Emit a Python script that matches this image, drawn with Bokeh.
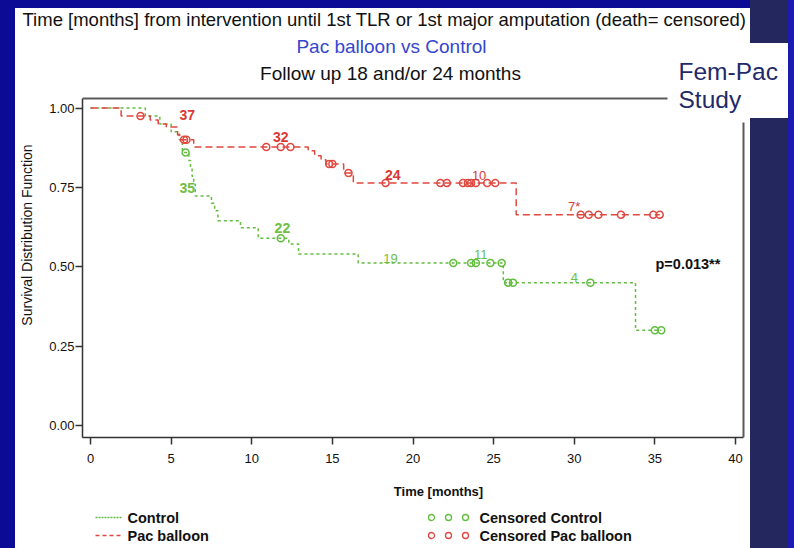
from bokeh.plotting import figure
from bokeh.layouts import column
from bokeh.models import Range1d, FixedTicker, PrintfTickFormatter
from bokeh.core.properties import value
from bokeh.embed import file_html
from bokeh.resources import INLINE

FONT = "Liberation Sans"

# ---- data ----
ctrl_t = [0, 3.4, 4.3, 5.0, 5.5, 5.7, 6.1, 6.2, 6.3, 6.4, 6.5, 7.5, 7.7, 7.9, 9.3, 10.4, 12.3, 12.9, 16.6, 25.6, 33.8, 35.4]
ctrl_s = [1.0, 0.975, 0.95, 0.925, 0.90, 0.86, 0.835, 0.81, 0.785, 0.76, 0.723, 0.70, 0.676, 0.645, 0.623, 0.59, 0.572, 0.54, 0.512, 0.45, 0.30, 0.30]
ctrl_cens = [5.9, 11.8, 22.5, 23.6, 23.9, 24.8, 25.5, 25.9, 26.2, 31.0, 35.0, 35.4]

pac_t = [0, 1.9, 3.7, 4.2, 4.7, 5.4, 5.6, 6.4, 13.5, 13.9, 14.3, 14.6, 15.7, 16.3, 26.4, 35.3]
pac_s = [1.0, 0.975, 0.962, 0.95, 0.94, 0.915, 0.90, 0.877, 0.865, 0.85, 0.837, 0.824, 0.795, 0.764, 0.664, 0.664]
pac_cens = [3.1, 5.8, 5.95, 10.9, 11.8, 12.4, 14.8, 15.0, 16.0, 18.3, 21.7, 22.1, 23.1, 23.4, 23.6, 23.9, 24.6, 25.1,
            30.4, 30.9, 31.5, 32.9, 34.9, 35.3]

pac_risk_t = [6.0, 11.8, 18.75, 24.1, 30.0]
pac_risk_s = [0.978, 0.909, 0.79, 0.786, 0.69]
pac_risk = ["37", "32", "24", "10", "7*"]
ctrl_risk_t = [6.0, 11.9, 18.6, 24.2, 30.0]
ctrl_risk_s = [0.748, 0.623, 0.525, 0.54, 0.465]
ctrl_risk = ["35", "22", "19", "11", "4"]

x_ticks = [0, 5, 10, 15, 20, 25, 30, 35, 40]
y_ticks = [0.0, 0.25, 0.5, 0.75, 1.0]

TITLE1 = "Time [months] from intervention until 1st TLR or 1st major amputation (death= censored)"
TITLE2 = "Pac balloon vs Control"
TITLE3 = "Follow up 18 and/or 24 months"
P_TEXT = "p=0.013**"
LEG_LINES = ["Control", "Pac balloon"]
LEG_CENS = ["Censored Control", "Censored Pac balloon"]

RED = "#e0483f"
GREEN = "#62bd3e"
LBL_RED = "#d93a33"
LBL_GREEN = "#6cc044"
INK = "#111111"
NAVY_TXT = "#1f2a6a"

BG = ("linear-gradient(to right, #0b0b96 0px, #0b0b96 15px, #ffffff 15px, #ffffff 750px, "
      "#23275e 750px, #23275e 788px, #1b1bb0 788px, #1b1bb0 794px)")


def step_value(ts, ss, t):
    v = ss[0]
    for ti, si in zip(ts, ss):
        if ti <= t:
            v = si
    return v


def blank_fig(h, y_top, y_bot, extra_bg=None):
    bg = BG if extra_bg is None else extra_bg + ", " + BG
    f = figure(width=794, height=h, x_range=Range1d(0, 794), y_range=Range1d(y_bot, y_top),
               x_axis_location=None, y_axis_location=None, toolbar_location=None,
               output_backend="svg", min_border=0, title=None, frame_align=False,
               styles={"background": bg})
    f.outline_line_color = None
    f.background_fill_alpha = 0
    f.border_fill_alpha = 0
    f.grid.visible = False
    return f


# ---- top strip with first title line (page y 0..32) ----
top = blank_fig(32, 0, 32, "linear-gradient(#0b0b96, #0b0b96) 0px 0px / 750px 8px no-repeat")
top.text(x=[22], y=[19], text=[TITLE1], text_font=value(FONT), text_font_size="18.5px",
         text_color=INK, text_align="left", text_baseline="middle")

# ---- main chart (page y 32..505) ----
PX0, PX40 = 90.0, 735.0      # pixel of t=0 and t=40
PY1, PY0 = 107.5, 425.0      # pixel of S=1 and S=0


def dx(xp):
    return (xp - PX0) / (PX40 - PX0) * 40.0


def dy(yp):
    return 1.0 - (yp - PY1) / (PY0 - PY1)


p = figure(width=794, height=473, output_backend="svg", toolbar_location=None, title=None,
           x_range=Range1d(dx(82), dx(794)), y_range=Range1d(dy(437), dy(32)),
           min_border_left=82, min_border_right=0, min_border_top=0, min_border_bottom=68,
           frame_align=False,
           styles={"background": "linear-gradient(#ffffff, #ffffff) 750px 11px / 38px 75px no-repeat, " + BG})
p.outline_line_color = None
p.background_fill_alpha = 0
p.border_fill_alpha = 0
p.xgrid.visible = False
p.ygrid.visible = False

for ax in (p.xaxis[0], p.yaxis[0]):
    ax.axis_line_color = "#333333"
    ax.axis_line_width = 1.5
    ax.major_tick_line_color = "#333333"
    ax.major_tick_line_width = 1.5
    ax.major_tick_in = 0
    ax.major_tick_out = 7
    ax.minor_tick_line_color = None
    ax.major_label_text_font = FONT
    ax.major_label_text_font_size = "13px"
    ax.major_label_text_color = INK
    ax.axis_label_text_font = FONT
    ax.axis_label_text_color = INK

p.xaxis.bounds = (dx(82), dx(743))
p.yaxis.bounds = (dy(437), dy(98))
p.xaxis.ticker = FixedTicker(ticks=x_ticks)
p.yaxis.ticker = FixedTicker(ticks=y_ticks)
p.yaxis.formatter = PrintfTickFormatter(format="%.2f")
p.xaxis.major_label_standoff = 9
p.yaxis.major_label_standoff = 1
p.xaxis.axis_label = "Time [months]"
p.xaxis.axis_label_text_font_size = "13px"
p.xaxis.axis_label_text_font_style = "bold"
p.xaxis.axis_label_standoff = 18
p.yaxis.axis_label = "Survival Distribution Function"
p.yaxis.axis_label_text_font_size = "14px"
p.yaxis.axis_label_text_font_style = "normal"
p.yaxis.axis_label_standoff = 11

# frame top and right edges (partly hidden behind the Fem-Pac box)
p.line([dx(82), dx(667)], [dy(98), dy(98)], line_color="#5a5a5a", line_width=2)
p.line([dx(743), dx(743)], [dy(437), dy(122)], line_color="#5a5a5a", line_width=2)

# curves
p.step(ctrl_t, ctrl_s, mode="after", line_color=GREEN, line_width=1.5, line_dash="3 3")
p.step(pac_t, pac_s, mode="after", line_color=RED, line_width=1.5, line_dash="7 4")

ctrl_cy = [step_value(ctrl_t, ctrl_s, t) for t in ctrl_cens]
pac_cy = [step_value(pac_t, pac_s, t) for t in pac_cens]
p.scatter(ctrl_cens, ctrl_cy, marker="circle", size=7, fill_alpha=0, line_color=GREEN, line_width=1.5)
p.scatter(pac_cens, pac_cy, marker="circle", size=7, fill_alpha=0, line_color=RED, line_width=1.5)

# numbers at risk
p.text(pac_risk_t[:3], pac_risk_s[:3], text=pac_risk[:3], text_font=value(FONT), text_font_size="14px",
       text_font_style="bold", text_color=LBL_RED, text_align="center", text_baseline="middle")
p.text(pac_risk_t[3:], pac_risk_s[3:], text=pac_risk[3:], text_font=value(FONT), text_font_size="13px",
       text_color=LBL_RED, text_align="center", text_baseline="middle")
p.text(ctrl_risk_t[:2], ctrl_risk_s[:2], text=ctrl_risk[:2], text_font=value(FONT), text_font_size="14px",
       text_font_style="bold", text_color=LBL_GREEN, text_align="center", text_baseline="middle")
p.text(ctrl_risk_t[2:], ctrl_risk_s[2:], text=ctrl_risk[2:], text_font=value(FONT), text_font_size="13px",
       text_color=LBL_GREEN, text_align="center", text_baseline="middle")

p.text(x=[dx(655)], y=[dy(263)], text=[P_TEXT], text_font=value(FONT), text_font_size="14.5px",
       text_font_style="bold", text_color=INK, text_align="left", text_baseline="middle")

# second and third title lines
p.text(x=[dx(391)], y=[dy(46)], text=[TITLE2], text_font=value(FONT), text_font_size="19px",
       text_color="#3446cf", text_align="center", text_baseline="middle")
p.text(x=[dx(390)], y=[dy(73)], text=[TITLE3], text_font=value(FONT), text_font_size="19px",
       text_color=INK, text_align="center", text_baseline="middle")

# Fem-Pac Study tag
p.text(x=[dx(678), dx(678)], y=[dy(71), dy(99)], text=["Fem-Pac", "Study"], text_font=value(FONT),
       text_font_size="24.5px", text_color=NAVY_TXT, text_align="left", text_baseline="middle")

# ---- legend strip (page y 505..548) ----
leg = blank_fig(43, 505, 548)
leg.line([95, 121], [517, 517], line_color=GREEN, line_width=1.5, line_dash="2 1")
leg.line([95, 121], [535, 535], line_color=RED, line_width=1.5, line_dash="4 3")
leg.text(x=[127, 127], y=[517, 535], text=LEG_LINES, text_font=value(FONT), text_font_size="14.5px",
         text_font_style="bold", text_color=INK, text_align="left", text_baseline="middle")
leg.scatter([431, 448, 465], [517, 517, 517], marker="circle", size=6, fill_alpha=0,
            line_color=GREEN, line_width=1.3)
leg.scatter([431, 448, 465], [535, 535, 535], marker="circle", size=6, fill_alpha=0,
            line_color=RED, line_width=1.3)
leg.text(x=[479, 479], y=[517, 535], text=LEG_CENS, text_font=value(FONT), text_font_size="14.5px",
         text_font_style="bold", text_color=INK, text_align="left", text_baseline="middle")

layout = column(top, p, leg, spacing=0)
open("out.html", "w").write(file_html(layout, INLINE))
